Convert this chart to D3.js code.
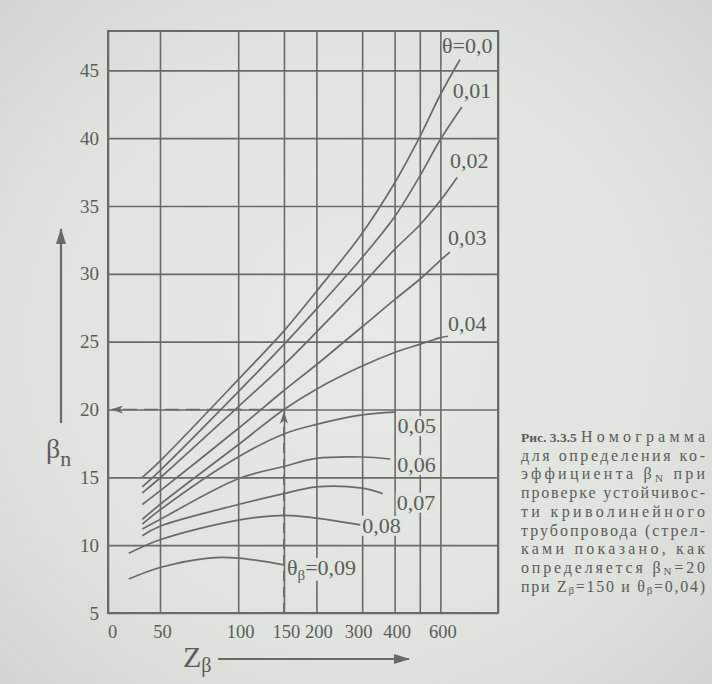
<!DOCTYPE html>
<html><head><meta charset="utf-8">
<script src="https://cdn.jsdelivr.net/npm/d3@7"></script>
<style>html,body{margin:0;padding:0;background:#e1e4df;}svg{display:block}</style>
</head><body>
<svg id="c" width="712" height="684"></svg>
<script>
// ---------------- data ----------------
const zTicks = [0, 50, 100, 150, 200, 300, 400, 500, 600, 1000];
const zTickLabels = ["0", "50", "100", "150", "200", "300", "400", "", "600", ""];
const betaTicks = [5, 10, 15, 20, 25, 30, 35, 40, 45];
const betaMax = 47.9;
const thetaNames = ["θ=0,0", "0,01", "0,02", "0,03", "0,04", "0,05", "0,06", "0,07", "0,08", "0,09"];

const zT00 = [33, 50, 100, 150, 200, 300, 400, 500, 600, 714];
const bT00 = [15.0, 16.2, 22.2, 25.8, 28.7, 33.0, 36.7, 40.1, 43.2, 45.8];
const zT01 = [33, 50, 100, 150, 200, 300, 400, 500, 600, 726];
const bT01 = [14.3, 15.5, 21.3, 24.8, 27.4, 31.2, 34.2, 37.2, 39.9, 42.3];
const zT02 = [33, 50, 100, 150, 200, 300, 400, 500, 600, 696];
const bT02 = [13.85, 14.95, 20.2, 23.3, 25.7, 29.2, 31.8, 33.6, 35.4, 37.1];
const zT03 = [33, 50, 100, 150, 200, 300, 400, 500, 600, 653];
const bT03 = [13.0, 14.0, 18.6, 21.4, 23.3, 26.1, 28.1, 29.6, 31.0, 31.6];
const zT04 = [33, 50, 100, 150, 200, 300, 400, 500, 600, 642];
const bT04 = [11.9, 13.0, 17.4, 20.0, 21.5, 23.2, 24.2, 24.8, 25.3, 25.4];
const zT05 = [33, 50, 100, 150, 200, 300, 400];
const bT05 = [11.55, 12.6, 16.5, 18.2, 18.9, 19.6, 19.8];
const zT06 = [33, 50, 100, 150, 200, 300, 385];
const bT06 = [11.2, 11.9, 14.9, 15.8, 16.4, 16.5, 16.35];
const zT07 = [33, 50, 100, 150, 200, 300, 360];
const bT07 = [10.7, 11.4, 13.0, 13.8, 14.3, 14.2, 13.8];
const zT08 = [20, 50, 100, 150, 200, 295];
const bT08 = [9.4, 10.4, 11.85, 12.2, 12.0, 11.5];
const zT09 = [20, 50, 77, 100, 150];
const bT09 = [7.5, 8.35, 9.05, 9.05, 8.55];

const exampleZ = 150, exampleBeta = 20;

const captionLines = [
  [["Номограмма"]],
  [["для определения ко-"]],
  [["эффициента β"], ["N", 1], [" при"]],
  [["проверке устойчивос-"]],
  [["ти криволинейного"]],
  [["трубопровода (стрел-"]],
  [["ками показано, как"]],
  [["определяется β"], ["N", 1], ["=20"]],
  [["при Z"], ["β", 1], ["=150 и θ"], ["β", 1], ["=0,04)"]]
];
const captionHead = "Рис. 3.3.5";

// ---------------- layout ----------------
const L = 108, R = 498, T = 31, B = 613, brk = 52;
const ink = "#686c68", textInk = "#5a5e5a", paper = "#e1e4df";
const serif = "'Liberation Serif','Times New Roman','DejaVu Serif',serif";

const xLin = d3.scaleLinear().domain([0, 50]).range([L, L + brk]);
const xLog = d3.scaleLog().domain([50, 1000]).range([L + brk, R]);
const x = z => (z <= 50 ? xLin(z) : xLog(z));
const xAxisScale = d3.scaleLinear().domain(zTicks).range(zTicks.map(x));
const y = d3.scaleLinear().domain([5, betaMax]).range([B, T]);

const svg = d3.select("#c");
const defs = svg.append("defs");
const rg = defs.append("radialGradient").attr("id", "bg").attr("cx", "50%").attr("cy", "50%").attr("r", "75%");
rg.append("stop").attr("offset", "0%").attr("stop-color", "#e6e9e4");
rg.append("stop").attr("offset", "60%").attr("stop-color", "#e0e3de");
rg.append("stop").attr("offset", "100%").attr("stop-color", "#cfd2cd");
svg.append("rect").attr("width", 712).attr("height", 684).attr("fill", "url(#bg)");

defs.append("marker").attr("id", "ah").attr("viewBox", "0 0 12 8")
  .attr("refX", 11).attr("refY", 4).attr("markerWidth", 12).attr("markerHeight", 8)
  .attr("markerUnits", "userSpaceOnUse").attr("orient", "auto")
  .append("path").attr("d", "M0,0 L12,4 L0,8 L3,4 Z").attr("fill", ink);
defs.append("marker").attr("id", "ahBig").attr("viewBox", "0 0 16 10")
  .attr("refX", 15).attr("refY", 5).attr("markerWidth", 16).attr("markerHeight", 10)
  .attr("markerUnits", "userSpaceOnUse").attr("orient", "auto")
  .append("path").attr("d", "M0,0 L16,5 L0,10 Z").attr("fill", ink);

// ---------------- grid / axes ----------------
const gy = svg.append("g").attr("transform", `translate(${L},0)`)
  .call(d3.axisLeft(y).tickValues(betaTicks).tickSizeInner(-(R - L)).tickSizeOuter(0).tickPadding(9));
gy.select(".domain").remove();
gy.selectAll(".tick line").attr("stroke", ink).attr("stroke-width", 1.6);
gy.selectAll(".tick text").attr("fill", textInk).attr("font-family", serif).attr("font-size", 19);

const gx = svg.append("g").attr("transform", `translate(0,${B})`)
  .call(d3.axisBottom(xAxisScale).tickValues(zTicks).tickFormat((d, i) => zTickLabels[i])
    .tickSizeInner(-(B - T)).tickSizeOuter(0).tickPadding(12));
gx.select(".domain").remove();
gx.selectAll(".tick line").attr("stroke", ink).attr("stroke-width", 1.6);
gx.selectAll(".tick text").attr("fill", textInk).attr("font-family", serif).attr("font-size", 18.5)
  .attr("dx", (d) => (d === 0 ? 4 : d === 300 ? -4 : 2));

svg.append("rect").attr("x", L).attr("y", T).attr("width", R - L).attr("height", B - T)
  .attr("fill", "none").attr("stroke", ink).attr("stroke-width", 2);

// ---------------- curves ----------------
const seriesZ = [zT00, zT01, zT02, zT03, zT04, zT05, zT06, zT07, zT08, zT09];
const seriesB = [bT00, bT01, bT02, bT03, bT04, bT05, bT06, bT07, bT08, bT09];
const curves = seriesZ.map((zs, i) => ({ name: thetaNames[i], pts: zs.map((z, j) => [z, seriesB[i][j]]) }));

const line = d3.line().x(d => x(d[0])).y(d => y(d[1])).curve(d3.curveCatmullRom.alpha(0.5));
svg.append("g").selectAll("path").data(curves).join("path")
  .attr("d", d => line(d.pts)).attr("fill", "none").attr("stroke", ink).attr("stroke-width", 1.7);

// example dashed arrows
const ex = x(exampleZ), ey = y(exampleBeta);
svg.append("line").attr("x1", ex).attr("y1", B).attr("x2", ex).attr("y2", ey + 3)
  .attr("stroke", ink).attr("stroke-width", 1.6).attr("stroke-dasharray", "10,6")
  .attr("marker-end", "url(#ah)");
svg.append("line").attr("x1", ex).attr("y1", ey).attr("x2", L + 4).attr("y2", ey)
  .attr("stroke", ink).attr("stroke-width", 1.6).attr("stroke-dasharray", "14,7")
  .attr("marker-end", "url(#ah)");

// ---------------- curve labels ----------------
const labelOffsets = [[-18, -6], [-9, -9], [-7, -10], [-2, -7], [0, -5], [3, 21], [7, 13], [14, 16], [2, 8], [3, 10]];
const labG = svg.append("g");
curves.forEach((c, i) => {
  const end = c.pts[c.pts.length - 1];
  const tx = x(end[0]) + labelOffsets[i][0], ty = y(end[1]) + labelOffsets[i][1];
  const t = labG.append("text").attr("x", tx).attr("y", ty).attr("font-family", serif)
    .attr("font-size", 22).attr("fill", textInk);
  if (i === 9) {
    t.append("tspan").text("θ");
    t.append("tspan").text("β").attr("font-size", 15).attr("dy", 5);
    t.append("tspan").text("=" + c.name).attr("dy", -5);
  } else {
    t.text(c.name);
  }
  if (i >= 5) {
    const bb = t.node().getBBox();
    labG.insert("rect", () => t.node()).attr("x", bb.x - 1).attr("y", bb.y + 3)
      .attr("width", bb.width + 2).attr("height", bb.height - 5).attr("fill", paper);
  }
});

// ---------------- axis titles ----------------
const zt = svg.append("text").attr("x", 183).attr("y", 667).attr("font-family", serif)
  .attr("font-size", 30).attr("fill", textInk);
zt.append("tspan").text("Z");
zt.append("tspan").text("β").attr("font-size", 20).attr("dy", 5);
svg.append("line").attr("x1", 218).attr("y1", 659).attr("x2", 409).attr("y2", 659)
  .attr("stroke", ink).attr("stroke-width", 2).attr("marker-end", "url(#ahBig)");

const bt = svg.append("text").attr("x", 46).attr("y", 458).attr("font-family", serif)
  .attr("font-size", 28).attr("fill", textInk);
bt.append("tspan").text("β");
bt.append("tspan").text("n").attr("font-size", 22).attr("dy", 8);
svg.append("line").attr("x1", 61).attr("y1", 423).attr("x2", 61).attr("y2", 229)
  .attr("stroke", ink).attr("stroke-width", 2.2).attr("marker-end", "url(#ahBig)");

// ---------------- caption ----------------
const capX0 = 521, capX1 = 705, capY0 = 442, capDY = 18.7, capFont = 16;
svg.append("text").attr("x", capX0).attr("y", capY0).attr("font-family", serif)
  .attr("font-size", 13.5).attr("font-weight", "bold").attr("fill", textInk).text(captionHead);
captionLines.forEach((segs, i) => {
  const t = svg.append("text").attr("y", capY0 + i * capDY).attr("font-family", serif)
    .attr("font-size", capFont).attr("fill", textInk);
  let shifted = false, nChars = 0;
  segs.forEach(s => {
    const sp = t.append("tspan").text(s[0]);
    nChars += s[0].length;
    if (s[1]) { sp.attr("font-size", 11).attr("dy", 2.5); shifted = true; }
    else if (shifted) { sp.attr("dy", -2.5); shifted = false; }
  });
  const target = i === 0 ? capX1 - 581 : capX1 - capX0;
  let w = t.node().getComputedTextLength();
  if (w > target) {
    t.attr("font-size", capFont * target / w);
    w = t.node().getComputedTextLength();
  }
  t.attr("letter-spacing", Math.max(0, (target - w) / Math.max(1, nChars - 1)));
  t.attr("x", i === 0 ? 581 : capX0);
});
</script>
</body></html>
